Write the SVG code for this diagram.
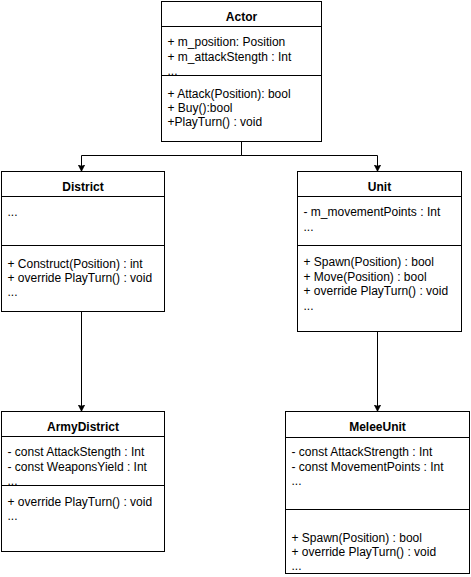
<svg xmlns="http://www.w3.org/2000/svg" width="471" height="577" viewBox="0 0 471 577">
<style>
.box{fill:#fff;stroke:#000;stroke-width:1}
.ln{stroke:#000;stroke-width:1;fill:none}
text{font-family:"Liberation Sans",Arial,Helvetica,sans-serif;font-size:12px;fill:#000}
.t{font-weight:bold;text-anchor:middle}
.edge{stroke:#000;stroke-width:1;fill:none;marker-end:url(#arr)}
</style>
<defs>
<marker id="arr" markerUnits="userSpaceOnUse" markerWidth="8" markerHeight="8" refX="7" refY="3.5" orient="auto">
<path d="M0,0 L7,3.5 L0,7 L1.75,3.5 Z" fill="#000" stroke="#000" stroke-width="0.5"/>
</marker>
</defs>
<rect width="471" height="577" fill="#fff"/>
<g id="connectors">
<path class="edge" d="M241.5,141.5 V155.5 H81.5 V171.5"/>
<path class="edge" d="M241.5,141.5 V155.5 H377.5 V171.5"/>
<path class="edge" d="M81.5,311.5 V411.5"/>
<path class="edge" d="M377.5,331.5 V411.5"/>
</g>
<g id="Actor">
<rect class="box" x="161.5" y="1.5" width="160" height="140"/>
<line class="ln" x1="161.5" y1="26.5" x2="321.5" y2="26.5"/>
<line class="ln" x1="161.5" y1="75.5" x2="321.5" y2="75.5"/>
<text class="t" x="241.5" y="21">Actor</text>
<text x="167.5" y="46">+ m_position: Position</text>
<text x="167.5" y="60.5">+ m_attackStength : Int</text>
<text x="167.5" y="74.5">...</text>
<text x="167.5" y="98">+ Attack(Position): bool</text>
<text x="167.5" y="112">+ Buy():bool</text>
<text x="167.5" y="125.5">+PlayTurn() : void</text>
</g>
<g id="District">
<rect class="box" x="1.5" y="171.5" width="163" height="140"/>
<line class="ln" x1="1.5" y1="196.5" x2="164.5" y2="196.5"/>
<line class="ln" x1="1.5" y1="245.5" x2="164.5" y2="245.5"/>
<text class="t" x="83" y="191">District</text>
<text x="7.5" y="216">...</text>
<text x="7.5" y="267.5">+ Construct(Position) : int</text>
<text x="7.5" y="281.5">+ override PlayTurn() : void</text>
<text x="7.5" y="295.5">...</text>
</g>
<g id="Unit">
<rect class="box" x="297.5" y="171.5" width="164" height="160"/>
<line class="ln" x1="297.5" y1="196.5" x2="461.5" y2="196.5"/>
<line class="ln" x1="297.5" y1="245.5" x2="461.5" y2="245.5"/>
<text class="t" x="379.5" y="191">Unit</text>
<text x="303.5" y="216">- m_movementPoints : Int</text>
<text x="303.5" y="230.5">...</text>
<text x="303.5" y="266">+ Spawn(Position) : bool</text>
<text x="303.5" y="280.5">+ Move(Position) : bool</text>
<text x="303.5" y="295">+ override PlayTurn() : void</text>
<text x="303.5" y="309.5">...</text>
</g>
<g id="ArmyDistrict">
<rect class="box" x="1.5" y="411.5" width="163" height="140"/>
<line class="ln" x1="1.5" y1="436.5" x2="164.5" y2="436.5"/>
<line class="ln" x1="1.5" y1="485.5" x2="164.5" y2="485.5"/>
<text class="t" x="83" y="431">ArmyDistrict</text>
<text x="7.5" y="456">- const AttackStength : Int</text>
<text x="7.5" y="470.5">- const WeaponsYield : Int</text>
<text x="7.5" y="484.5">...</text>
<text x="7.5" y="506">+ override PlayTurn() : void</text>
<text x="7.5" y="520">...</text>
</g>
<g id="MeleeUnit">
<rect class="box" x="285.5" y="411.5" width="184" height="162"/>
<line class="ln" x1="285.5" y1="437.5" x2="469.5" y2="437.5"/>
<line class="ln" x1="285.5" y1="509.5" x2="469.5" y2="509.5"/>
<text class="t" x="377.5" y="431">MeleeUnit</text>
<text x="291.5" y="456">- const AttackStrength : Int</text>
<text x="291.5" y="470.5">- const MovementPoints : Int</text>
<text x="291.5" y="485">...</text>
<text x="291.5" y="541.5">+ Spawn(Position) : bool</text>
<text x="291.5" y="555.5">+ override PlayTurn() : void</text>
<text x="291.5" y="569.5">...</text>
</g>
</svg>
